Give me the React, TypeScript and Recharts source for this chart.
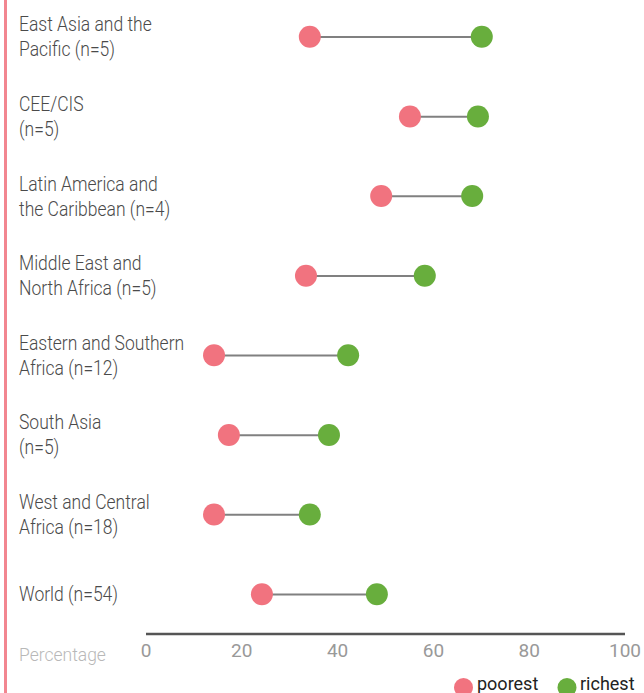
import React from 'react';
import { ComposedChart, Bar, Line, XAxis, YAxis } from 'recharts';

const regions = [
  'East Asia and the Pacific (n=5)',
  'CEE/CIS (n=5)',
  'Latin America and the Caribbean (n=4)',
  'Middle East and North Africa (n=5)',
  'Eastern and Southern Africa (n=12)',
  'South Asia (n=5)',
  'West and Central Africa (n=18)',
  'World (n=54)',
];
const regionLabelLines = [
  ['East Asia and the', 'Pacific (n=5)'],
  ['CEE/CIS', '(n=5)'],
  ['Latin America and', 'the Caribbean (n=4)'],
  ['Middle East and', 'North Africa (n=5)'],
  ['Eastern and Southern', 'Africa (n=12)'],
  ['South Asia', '(n=5)'],
  ['West and Central', 'Africa (n=18)'],
  ['World (n=54)'],
];
const poorest = [34.2, 55.1, 49.1, 33.4, 14.2, 17.3, 14.2, 24.2];
const richest = [70.1, 69.3, 68.1, 58.2, 42.2, 38.2, 34.2, 48.2];
const xTicks = [0, 20, 40, 60, 80, 100];
const seriesNames = ['poorest', 'richest'];

const PINK = '#F1737F';
const GREEN = '#68AE3D';

const data = regions.map((region, i) => ({
  region,
  poorest: poorest[i],
  richest: richest[i],
}));

const labelMap: Record<string, string[]> = {};
regions.forEach((r, i) => {
  labelMap[r] = regionLabelLines[i];
});

const FONT = 'Roboto, "Noto Sans", sans-serif';

const RegionTick = (props: any) => {
  const { y, payload } = props;
  const lines = labelMap[payload.value] || [payload.value];
  const lh = 25;
  const start = -((lines.length - 1) * lh) / 2;
  return (
    <g>
      {lines.map((l, i) => (
        <text
          key={i}
          x={0}
          y={0}
          dy="0.35em"
          transform={`translate(19 ${y + start + i * lh}) scale(0.875 1)`}
          fill="#4a4a4a"
          fontSize={20}
          fontWeight={300}
          fontFamily={FONT}
          textAnchor="start"
        >
          {l}
        </text>
      ))}
    </g>
  );
};

const PercentageLabel = () => (
  <text x={19} y={661} fill="#b8b8b8" fontSize={17.5} fontWeight={300} fontFamily={FONT}>
    Percentage
  </text>
);

export default function App() {
  return (
    <div style={{ position: 'absolute', left: 0, top: 0, width: 644, height: 693, overflow: 'hidden', background: '#fff' }}>
      <div style={{ position: 'absolute', left: 4, top: 0, width: 2.5, height: 693, background: '#F28690' }} />
      <ComposedChart
        width={644}
        height={693}
        data={data}
        layout="vertical"
        margin={{ top: -3, right: 19, bottom: 0, left: 0 }}
      >
        <XAxis
          type="number"
          domain={[0, 100]}
          ticks={xTicks}
          axisLine={{ stroke: '#555', strokeWidth: 2.5 }}
          tickLine={false}
          tickMargin={4}
          height={59}
          tick={{ fill: '#999', fontSize: 19, fontWeight: 400, fontFamily: FONT }}
          label={{ content: <PercentageLabel /> }}
        />
        <YAxis
          type="category"
          dataKey="region"
          width={146}
          axisLine={false}
          tickLine={false}
          tick={<RegionTick />}
          interval={0}
        />
        <Bar
          dataKey={(d: any) => [d.poorest, d.richest]}
          barSize={2}
          fill="#808080"
          isAnimationActive={false}
        />
        <Line
          dataKey="poorest"
          stroke="none"
          dot={{ r: 11, fill: PINK, stroke: 'none' }}
          activeDot={false}
          isAnimationActive={false}
        />
        <Line
          dataKey="richest"
          stroke="none"
          dot={{ r: 11, fill: GREEN, stroke: 'none' }}
          activeDot={false}
          isAnimationActive={false}
        />
      </ComposedChart>
      <svg width={644} height={693} style={{ position: 'absolute', left: 0, top: 0, pointerEvents: 'none' }}>
        <circle cx={463.5} cy={687.5} r={9.5} fill={PINK} />
        <text x={477} y={690} fontSize={18} fill="#222" fontFamily={FONT}>{seriesNames[0]}</text>
        <circle cx={567} cy={687.5} r={9.5} fill={GREEN} />
        <text x={580} y={690} fontSize={18} fill="#222" fontFamily={FONT}>{seriesNames[1]}</text>
      </svg>
    </div>
  );
}
